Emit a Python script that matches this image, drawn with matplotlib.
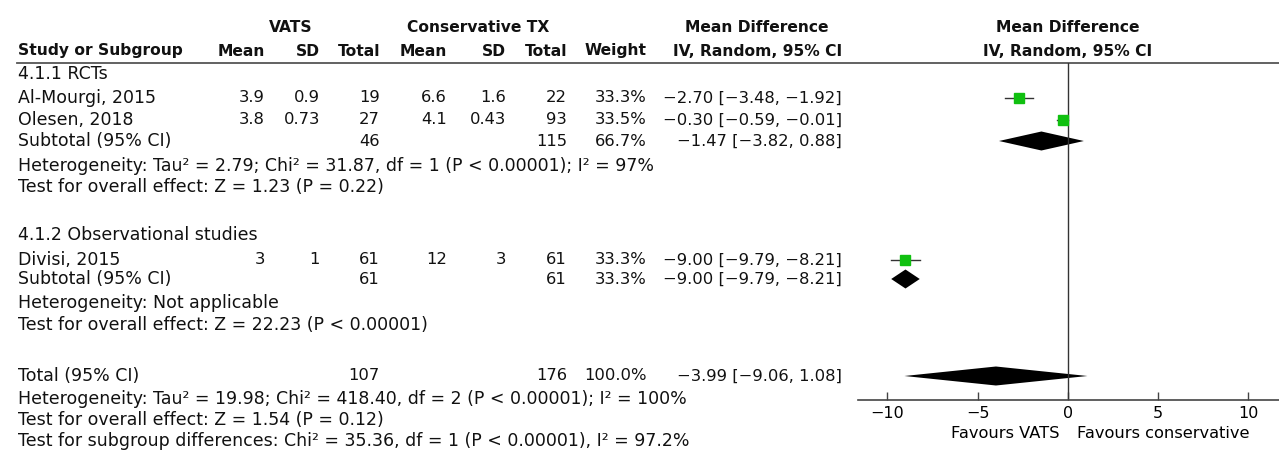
import matplotlib
matplotlib.use("Agg")
import matplotlib.pyplot as plt

plt.rcParams['font.family'] = ['DejaVu Sans']

# study level data
studies = ['Al-Mourgi, 2015', 'Olesen, 2018', 'Divisi, 2015']
vats_mean = ['3.9', '3.8', '3']
vats_sd = ['0.9', '0.73', '1']
vats_n = [19, 27, 61]
con_mean = ['6.6', '4.1', '12']
con_sd = ['1.6', '0.43', '3']
con_n = [22, 93, 61]
weights = [33.3, 33.5, 33.3]
md = [-2.70, -0.30, -9.00]
md_lo = [-3.48, -0.59, -9.79]
md_hi = [-1.92, -0.01, -8.21]

# pooled estimates: RCT subtotal, observational subtotal, total
pool_names = ['Subtotal (95% CI)', 'Subtotal (95% CI)', 'Total (95% CI)']
pool_vats_n = [46, 61, 107]
pool_con_n = [115, 61, 176]
pool_weight = [66.7, 33.3, 100.0]
pool_md = [-1.47, -9.00, -3.99]
pool_lo = [-3.82, -9.79, -9.06]
pool_hi = [0.88, -8.21, 1.08]

groups = ['4.1.1 RCTs', '4.1.2 Observational studies']
stats_rct = ['Heterogeneity: Tau\u00b2 = 2.79; Chi\u00b2 = 31.87, df = 1 (P < 0.00001); I\u00b2 = 97%',
             'Test for overall effect: Z = 1.23 (P = 0.22)']
stats_obs = ['Heterogeneity: Not applicable',
             'Test for overall effect: Z = 22.23 (P < 0.00001)']
stats_tot = ['Heterogeneity: Tau\u00b2 = 19.98; Chi\u00b2 = 418.40, df = 2 (P < 0.00001); I\u00b2 = 100%',
             'Test for overall effect: Z = 1.54 (P = 0.12)',
             'Test for subgroup differences: Chi\u00b2 = 35.36, df = 1 (P < 0.00001), I\u00b2 = 97.2%']
ticks = [-10, -5, 0, 5, 10]

# row positions (pixels from top)
study_rows = [98, 120, 260]
pool_rows = [141, 279, 376]
group_rows = [74, 235]
stat_rows = [[166, 187], [303, 325], [399, 420, 441]]

# column right edges (pixels)
X_NAME = 18
X_VM, X_VSD, X_VN = 265, 320, 380
X_CM, X_CSD, X_CN = 447, 506, 567
X_W, X_CI = 647, 842

FS_TXT = 12.5   # words
FS_NUM = 11.8   # numeric columns
FS_HEAD = 11.2  # bold headers
green = '#10c010'


def fmt(v):
    return ('%.2f' % v).replace('-', '\u2212')


def ci_text(m, lo, hi):
    return '%s [%s, %s]' % (fmt(m), fmt(lo), fmt(hi))


fig = plt.figure(figsize=(12.79, 4.57), dpi=100)
bg = fig.add_axes([0, 0, 1, 1])
bg.set_xlim(0, 1279)
bg.set_ylim(457, 0)
bg.axis('off')


def put(x, y, s, ha='right', size=FS_NUM, bold=False):
    bg.text(x, y, s, ha=ha, va='center', fontsize=size,
            fontweight='bold' if bold else 'normal', color='#111111')


# headers
put(291, 28, 'VATS', ha='center', size=FS_HEAD, bold=True)
put(478, 28, 'Conservative TX', ha='center', size=FS_HEAD, bold=True)
put(757, 28, 'Mean Difference', ha='center', size=FS_HEAD, bold=True)
put(1068, 28, 'Mean Difference', ha='center', size=FS_HEAD, bold=True)
put(X_NAME, 51, 'Study or Subgroup', ha='left', size=FS_HEAD, bold=True)
for x, s in [(X_VM, 'Mean'), (X_VSD, 'SD'), (X_VN, 'Total'), (X_CM, 'Mean'),
             (X_CSD, 'SD'), (X_CN, 'Total'), (X_W, 'Weight'), (X_CI, 'IV, Random, 95% CI')]:
    put(x, 51, s, size=FS_HEAD, bold=True)
put(1068, 51, 'IV, Random, 95% CI', ha='center', size=FS_HEAD, bold=True)
bg.plot([17, 1279], [63, 63], color='#555555', lw=1.3)

for y, g in zip(group_rows, groups):
    put(X_NAME, y, g, ha='left', size=FS_TXT)

for i, y in enumerate(study_rows):
    put(X_NAME, y, studies[i], ha='left', size=FS_TXT)
    put(X_VM, y, vats_mean[i])
    put(X_VSD, y, vats_sd[i])
    put(X_VN, y, str(vats_n[i]))
    put(X_CM, y, con_mean[i])
    put(X_CSD, y, con_sd[i])
    put(X_CN, y, str(con_n[i]))
    put(X_W, y, '%.1f%%' % weights[i])
    put(X_CI, y, ci_text(md[i], md_lo[i], md_hi[i]))

for i, y in enumerate(pool_rows):
    put(X_NAME, y, pool_names[i], ha='left', size=FS_TXT)
    put(X_VN, y, str(pool_vats_n[i]))
    put(X_CN, y, str(pool_con_n[i]))
    put(X_W, y, '%.1f%%' % pool_weight[i])
    put(X_CI, y, ci_text(pool_md[i], pool_lo[i], pool_hi[i]))

for rows, lines in zip(stat_rows, [stats_rct, stats_obs, stats_tot]):
    for y, s in zip(rows, lines):
        put(X_NAME, y, s, ha='left', size=FS_TXT)

# forest panel
fa = fig.add_axes([858 / 1279, (457 - 400) / 457, (1279 - 858) / 1279, (400 - 63) / 457])
fa.patch.set_visible(False)
fa.set_xlim(-11.63, 11.69)
fa.set_ylim(400, 63)
for side in ['left', 'right', 'top']:
    fa.spines[side].set_visible(False)
fa.spines['bottom'].set_color('#444444')
fa.spines['bottom'].set_linewidth(1.2)
fa.set_yticks([])
fa.set_xticks(ticks)
fa.set_xticklabels([str(t).replace('-', '\u2212') for t in ticks])
fa.tick_params(axis='x', direction='in', length=6, width=1, color='#444444',
               labelsize=11.5, pad=4)
fa.axvline(0, color='#333333', lw=1)

for i, y in enumerate(study_rows):
    fa.plot([md_lo[i], md_hi[i]], [y, y], color='#333333', lw=1)
    fa.plot(md[i], y, marker='s', ms=7, color=green, mec=green, lw=0)

for i, y in enumerate(pool_rows):
    h = 9.5
    fa.fill([pool_lo[i], pool_md[i], pool_hi[i], pool_md[i]],
            [y, y - h, y, y + h], color='black', lw=0)

fa.text(-0.45, -0.1, 'Favours VATS', transform=fa.get_xaxis_transform(),
        ha='right', va='center', fontsize=11.7)
fa.text(0.5, -0.1, 'Favours conservative', transform=fa.get_xaxis_transform(),
        ha='left', va='center', fontsize=11.7)

fig.savefig('out.png', dpi=100)
